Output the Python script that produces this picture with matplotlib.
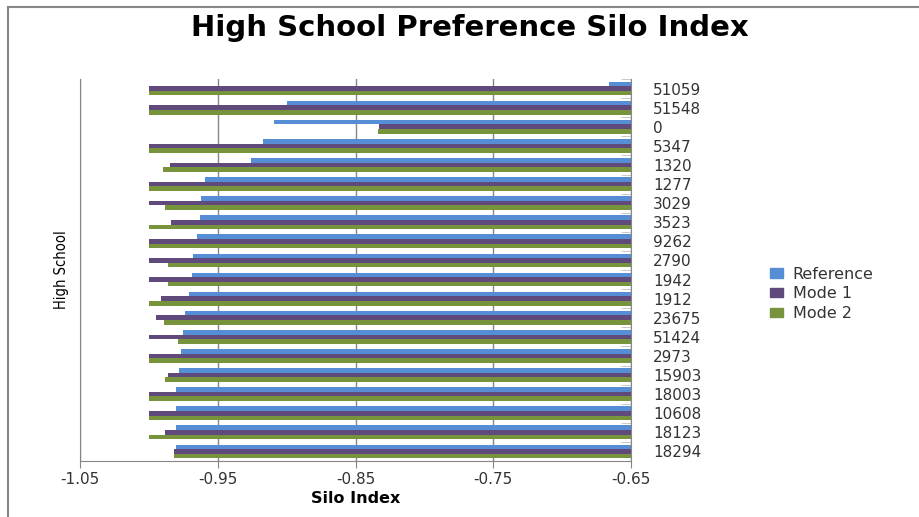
import numpy as np
import matplotlib
matplotlib.use("Agg")
import matplotlib.pyplot as plt
from matplotlib.patches import Patch
from matplotlib.lines import Line2D

schools = ["51059", "51548", "0", "5347", "1320", "1277", "3029", "3523", "9262", "2790",
           "1942", "1912", "23675", "51424", "2973", "15903", "18003", "10608", "18123", "18294"]
reference = [-0.666, -0.900, -0.909, -0.917, -0.926, -0.959, -0.962, -0.963, -0.965, -0.968,
             -0.969, -0.971, -0.974, -0.975, -0.977, -0.978, -0.980, -0.980, -0.980, -0.980]
mode1 = [-1.0, -1.0, -0.833, -1.0, -0.985, -1.0, -1.0, -0.984, -1.0, -1.0,
         -1.0, -0.991, -0.995, -1.0, -1.0, -0.986, -1.0, -1.0, -0.988, -0.982]
mode2 = [-1.0, -1.0, -0.834, -1.0, -0.990, -1.0, -0.988, -1.0, -1.0, -0.986,
         -0.986, -1.0, -0.989, -0.979, -1.0, -0.988, -1.0, -1.0, -1.0, -0.982]
xticks = [-1.05, -0.95, -0.85, -0.75, -0.65]

blue, purple, green = "#558ED5", "#604A7B", "#77933C"
grey = "#868686"
text_c = "#333333"

W, H = 920, 517
fig = plt.figure(figsize=(W / 100, H / 100), dpi=100)
ax = fig.add_axes([80 / W, 1 - 461 / H, (631 - 80) / W, (461 - 79) / H])

y = np.arange(len(schools))
h = 0.24
ax.barh(y - h, reference, height=h, color=blue, label="Reference")
ax.barh(y, mode1, height=h, color=purple, label="Mode 1")
ax.barh(y + h, mode2, height=h, color=green, label="Mode 2")

ax.set_xlim(-1.05, -0.65)
ax.set_ylim(len(schools) - 0.5, -0.5)
ax.set_xticks(xticks)
ax.set_xticklabels(["%.2f" % v for v in xticks], fontsize=11, color=text_c)
ax.tick_params(axis="x", length=5, color=grey, pad=3)

# category labels on the right, ticks between categories pointing inward
ax.yaxis.tick_right()
ax.set_yticks(y)
ax.set_yticklabels(schools, fontsize=11, color=text_c)
ax.tick_params(axis="y", length=0, pad=16)
ax.set_yticks(np.arange(-0.5, len(schools), 1), minor=True)
ax.tick_params(axis="y", which="minor", direction="in", length=7, color="#BFBFBF", right=True, left=False)

ax.grid(axis="x", color=grey, linewidth=1)
ax.set_axisbelow(True)
for side in ["left", "right", "bottom"]:
    ax.spines[side].set_color(grey)
ax.spines["top"].set_visible(False)

ax.set_xlabel("Silo Index", fontsize=11.5, fontweight="bold", labelpad=3)
fig.text(62 / W, 1 - 270 / H, "High School", rotation=90, ha="center", va="center",
         fontsize=10.5, family="DejaVu Sans", fontstretch="condensed")
fig.text(470 / W, 1 - 28 / H, "High School Preference Silo Index", ha="center", va="center",
         fontsize=21, fontweight="bold")

handles = [Patch(color=c) for c in (blue, purple, green)]
fig.legend(handles, ["Reference", "Mode 1", "Mode 2"], loc="center left",
           bbox_to_anchor=(756 / W, 1 - 294 / H), frameon=False, fontsize=11.5,
           handlelength=0.8, handleheight=0.5, handletextpad=0.6, labelspacing=0.3,
           labelcolor=text_c)

# chart frame
fig.add_artist(Line2D([8 / W, 1], [1 - 7 / H, 1 - 7 / H], color=grey, linewidth=1.5))
fig.add_artist(Line2D([8 / W, 8 / W], [0, 1 - 7 / H], color=grey, linewidth=1.5))

fig.savefig("out.png", dpi=100)
